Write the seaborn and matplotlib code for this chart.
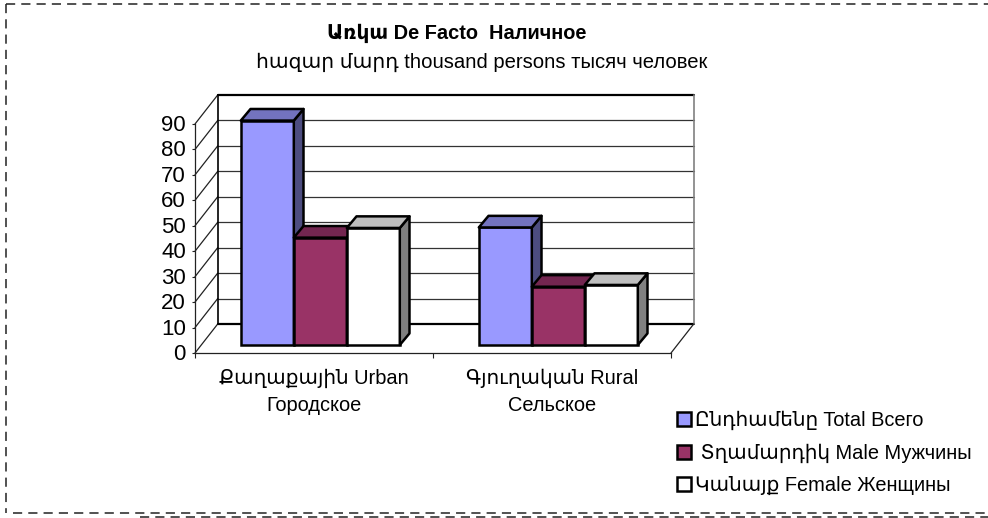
# plot.py - pseudo-3D column chart, front faces drawn by seaborn
import pandas as pd
import matplotlib.pyplot as plt
import seaborn as sns
from matplotlib.patches import Polygon
from matplotlib.lines import Line2D
from matplotlib.transforms import ScaledTranslation

categories = ["Քաղաքային Urban\nГородское", "Գյուղական Rural\nСельское"]
series_names = ["Ընդհամենը Total Всего", " Տղամարդիկ Male Мужчины", "Կանայք Female Женщины"]
total_vals = [88.2, 46.2]
male_vals = [42.2, 22.9]
female_vals = [46.0, 23.6]
y_ticks = list(range(0, 100, 10))

front_cols = ["#9999FF", "#993366", "#FFFFFF"]
top_cols = ["#7373BF", "#732650", "#BFBFBF"]
side_cols = ["#4D4D80", "#4D1A33", "#808080"]

W, H = 988, 518
FONT = ["Liberation Sans", "DejaVu Sans"]

sns.set_theme(style="white")
plt.rcParams["font.family"] = FONT

df = pd.DataFrame({
    "cat": categories * 3,
    "series": [series_names[0]] * 2 + [series_names[1]] * 2 + [series_names[2]] * 2,
    "val": total_vals + male_vals + female_vals,
})

fig = plt.figure(figsize=(W / 100, H / 100), dpi=100, facecolor="white")


def px_axes(left, right, bottom, top):
    # axes from pixel box, y counted from the top of the image
    return fig.add_axes([left / W, 1 - bottom / H, (right - left) / W, (bottom - top) / H])


# front axes carries the ticks, the bars sit in a copy shifted into the depth
x0, x1, y0, y90 = 195, 671, 353, 124
ax = px_axes(x0, x1, y0, y90)
ax_bars = px_axes(x0 + 6.3, x1 + 6.3, y0 - 8, y90 - 8)

for a in (ax, ax_bars):
    a.set_xlim(-0.5, 1.5)
    a.set_ylim(0, 90)
    a.patch.set_alpha(0)

# walls and floor
ddx = 22.7 / (x1 - x0) * 2
ddy = 29 / (y0 - y90) * 90
for v in y_ticks:
    back = "black" if v in (0, 90) else "#333333"
    ax.plot([-0.5, -0.5 + ddx], [v, v + ddy], color="#222222", lw=0.9, clip_on=False)
    ax.plot([-0.5 + ddx, 1.5 + ddx], [v + ddy, v + ddy], color=back,
            lw=1.6 if v in (0, 90) else 0.9, clip_on=False)
ax.plot([-0.5 + ddx, -0.5 + ddx], [ddy, 90 + ddy], color="black", lw=1.2, clip_on=False)
ax.plot([1.5 + ddx, 1.5 + ddx], [ddy, 90 + ddy], color="#808080", lw=1.2, clip_on=False)
ax.plot([1.5, 1.5 + ddx], [0, ddy], color="#222222", lw=0.9, clip_on=False)

sns.despine(ax=ax, right=True, top=True)
ax.spines["left"].set(color="#222222", linewidth=0.9)
ax.spines["bottom"].set(color="#222222", linewidth=0.9)
ax.set_yticks(y_ticks)
ax.set_yticklabels([str(v) for v in y_ticks], fontsize=16, color="black")
ax.set_xticks([-0.5, 0.5, 1.5])
ax.set_xticklabels(["", "", ""])
ax.tick_params(axis="y", length=2.5, width=0.8, color="#222222", pad=4, left=True)
ax.tick_params(axis="x", length=3.5, width=0.8, color="#222222", bottom=True)
up_1px = ScaledTranslation(0, 1 / 100, fig.dpi_scale_trans)
for lab in ax.get_yticklabels():
    lab.set_transform(lab.get_transform() + up_1px)
for i, c in enumerate(categories):
    ax.text(i, -6.0, c, ha="center", va="top", fontsize=14.4, linespacing=1.55, color="black")

# bars
sns.barplot(data=df, x="cat", y="val", hue="series", order=categories, hue_order=series_names,
            palette=front_cols, width=0.668, gap=0, saturation=1, edgecolor="black",
            linewidth=1.8, ax=ax_bars)
handles, labels = ax_bars.get_legend_handles_labels()
ax_bars.get_legend().remove()
ax_bars.set_axis_off()

bdx = 9.7 / (x1 - x0) * 2
bdy = 11.6 / (y0 - y90) * 90
for i, cont in enumerate(ax_bars.containers):
    for bar in cont:
        xa, w, h = bar.get_x(), bar.get_width(), bar.get_height()
        xb = xa + w
        top = Polygon([(xa, h), (xa + bdx, h + bdy), (xb + bdx, h + bdy), (xb, h)],
                      fc=top_cols[i], ec="black", lw=1.8, joinstyle="round", clip_on=False, zorder=3 + i)
        side = Polygon([(xb, 0), (xb + bdx, bdy), (xb + bdx, h + bdy), (xb, h)],
                       fc=side_cols[i], ec="black", lw=1.8, joinstyle="round", clip_on=False, zorder=3 + i)
        ax_bars.add_patch(side)
        ax_bars.add_patch(top)
        bar.set_zorder(3 + i)
        bar.set_clip_on(False)

# titles
fig.text(457 / W, 1 - 33 / H, "Առկա De Facto  Наличное", ha="center", va="center",
         fontsize=14.4, fontweight="bold", color="black")
fig.text(482 / W, 1 - 62 / H, "հազար մարդ thousand persons тысяч человек", ha="center", va="center",
         fontsize=14.6, color="black")

# legend
fig.legend(handles, labels, loc="upper left", bbox_to_anchor=(677 / W, 1 - 411 / H), frameon=False,
           fontsize=14.4, ncol=1, handlelength=0.68, handleheight=0.68, handletextpad=0.2,
           labelspacing=0.65, borderpad=0, borderaxespad=0, labelcolor="black")

# dashed outer frame
dash = dict(color="#222222", lw=1.1, linestyle=(0, (6, 4)), transform=fig.transFigure)
for xs, ys in [((6, 988), (4, 4)), ((6, 6), (4, 513)), ((13, 988), (513, 513)), ((140, 988), (517, 517))]:
    fig.add_artist(Line2D([v / W for v in xs], [1 - v / H for v in ys], **dash))

fig.savefig("out.png", dpi=100)
